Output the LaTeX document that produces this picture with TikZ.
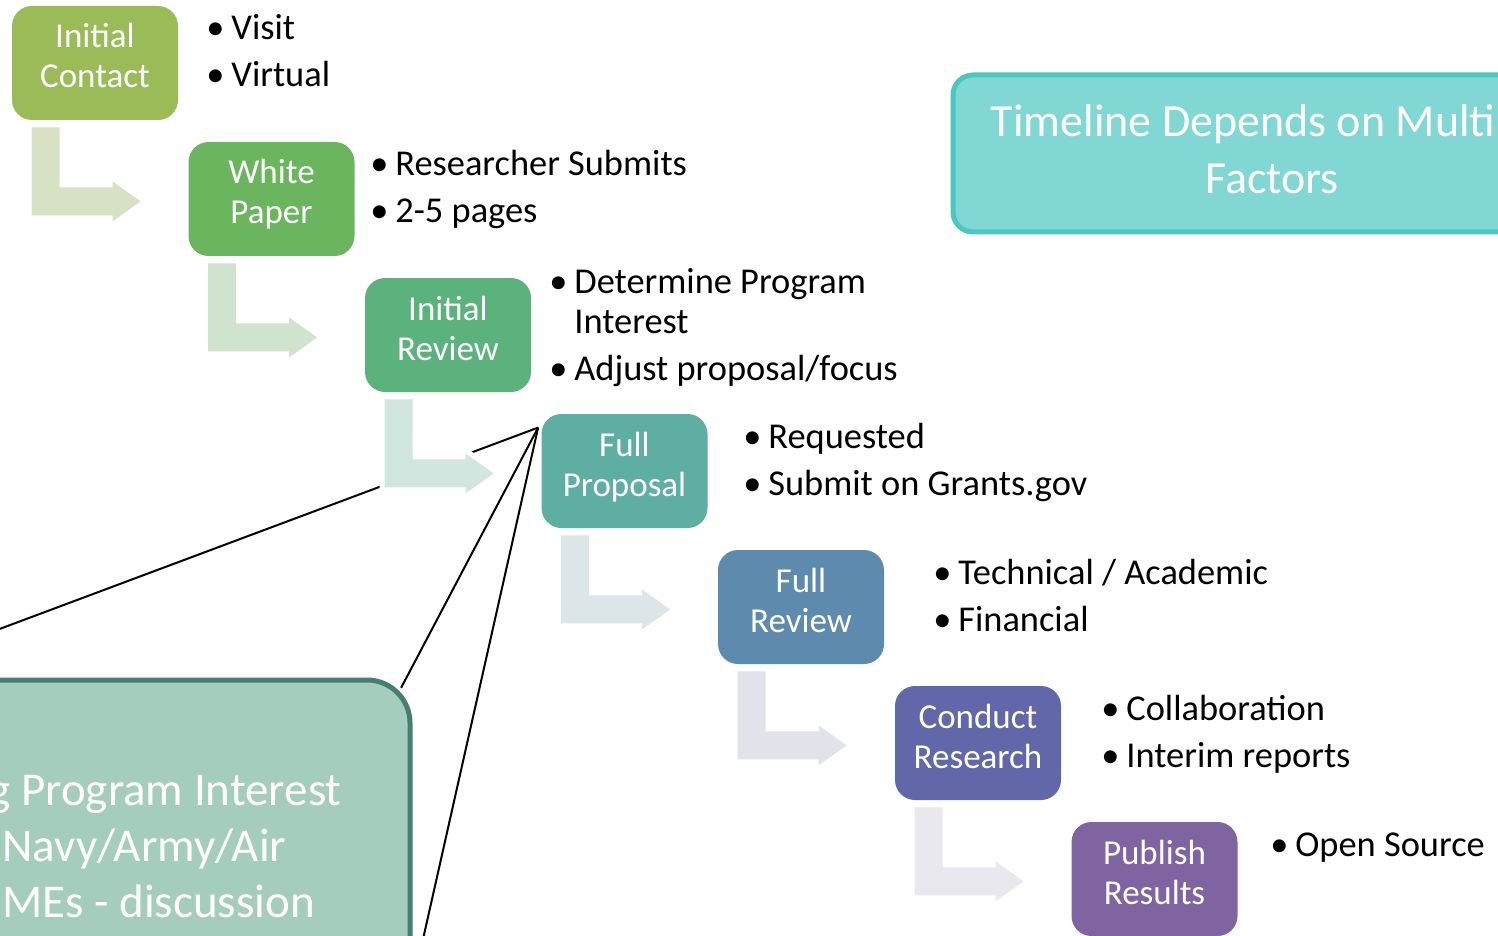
\documentclass[tikz,border=0pt]{standalone}
\usepackage{fontspec}
\setmainfont{Carlito}
\usetikzlibrary{calc}

\definecolor{stepA}{HTML}{9BBB59}
\definecolor{stepB}{HTML}{6AB55E}
\definecolor{stepC}{HTML}{5BB27C}
\definecolor{stepD}{HTML}{5EAEA3}
\definecolor{stepE}{HTML}{5E8BAD}
\definecolor{stepF}{HTML}{6167A8}
\definecolor{stepG}{HTML}{8064A2}
\definecolor{arrowA}{HTML}{D7E2C5}
\definecolor{arrowB}{HTML}{CFE3CE}
\definecolor{arrowC}{HTML}{D2E6E0}
\definecolor{arrowD}{HTML}{DCE5E8}
\definecolor{arrowE}{HTML}{E0E3EA}
\definecolor{arrowF}{HTML}{E9E8EF}
\definecolor{timefill}{HTML}{80D7D4}
\definecolor{timeedge}{HTML}{4BC6C1}
\definecolor{zoomfill}{HTML}{A5CDBD}
\definecolor{zoomedge}{HTML}{457F74}

\newcommand{\steptext}[2]{\begin{tabular}[b]{@{}c@{}}#1\\#2\end{tabular}}
\newcommand{\bitem}{\makebox[12.5pt][l]{\textbullet}}
\newcommand{\blist}[1]{\parbox[t]{260pt}{\raggedright #1}}

\begin{document}
\begin{tikzpicture}[x = 0.5pt, y = -0.5pt,
    stepbox/.style = {rectangle, rounded corners = 10pt, minimum width = 83pt,
        minimum height = 57pt, inner sep = 0pt, text = white,
        font = \fontsize{17.5}{20}\selectfont, text height = 31pt, text depth = 6pt},
    bullets/.style = {anchor = base west, inner sep = 0pt,
        font = \fontsize{18.2}{20}\selectfont},
    bent/.style = {line join = round,
        preaction = {draw = white, line width = 5pt, line join = round}},
    bigtext/.style = {text = white, font = \fontsize{23}{28.5}\selectfont}]
\useasboundingbox (0, 0) rectangle (1498, 936);
\clip (0, 0) rectangle (1498, 936);

\node [stepbox, fill = stepA] (contact) at (95, 63) {\steptext{Initial}{Contact}};
\node [stepbox, fill = stepB] (paper) at (271.5, 199) {\steptext{White}{Paper}};
\node [stepbox, fill = stepC] (review) at (448, 335) {\steptext{Initial}{Review}};
\node [stepbox, fill = stepD] (proposal) at (624.5, 471) {\steptext{Full}{Proposal}};
\node [stepbox, fill = stepE] (fullrev) at (801, 607) {\steptext{Full}{Review}};
\node [stepbox, fill = stepF] (research) at (978, 743) {\steptext{Conduct}{Research}};
\node [stepbox, fill = stepG] (publish) at (1154.5, 879) {\steptext{Publish}{Results}};

% zoom callout
\node [rectangle, rounded corners = 21.5pt, minimum width = 292pt, minimum height = 186pt,
    fill = zoomfill, draw = zoomedge, line width = 2.5pt] (zoombox) at (118, 866) {};
\node [bigtext, font = \fontsize{23.5}{28}\selectfont, anchor = base west, inner sep = 0pt]
    (zoomtext) at (2, 805)
    {\parbox[t]{300pt}{\raggedright\hspace*{-7pt}g Program Interest\\Navy/Army/Air\\MEs - discussion}};
\coordinate (apex) at ($(proposal.north west) + (-3, 14)$);
\coordinate (znw) at ($(zoombox.north west) + (12.6, 12.6)$);
\coordinate (zne) at ($(zoombox.north east) + (-12.6, 12.6)$);
\coordinate (zse) at ($(zoombox.south east) + (-12.6, -12.6)$);
\draw [line width = 1pt] (apex) -- (znw);
\draw [line width = 1pt, shorten > = 1.3pt] (apex) -- (zne);
\draw [line width = 1pt] (apex) -- (zse);

\path [bent, fill = arrowA] ($(contact.south west) + (20, 7)$) -- ++(28, 0) -- ++(0, 60)
    -- ++(53, 0) -- ++(0, -6) -- ++(28, 20) -- ++(-28, 20) -- ++(0, -6) -- ++(-81, 0) -- cycle;
\path [bent, fill = arrowB] ($(paper.south west) + (20, 7)$) -- ++(28, 0) -- ++(0, 60)
    -- ++(53, 0) -- ++(0, -6) -- ++(28, 20) -- ++(-28, 20) -- ++(0, -6) -- ++(-81, 0) -- cycle;
\path [bent, fill = arrowC] ($(review.south west) + (20, 7)$) -- ++(28, 0) -- ++(0, 60)
    -- ++(53, 0) -- ++(0, -6) -- ++(28, 20) -- ++(-28, 20) -- ++(0, -6) -- ++(-81, 0) -- cycle;
\path [bent, fill = arrowD] ($(proposal.south west) + (20, 7)$) -- ++(28, 0) -- ++(0, 60)
    -- ++(53, 0) -- ++(0, -6) -- ++(28, 20) -- ++(-28, 20) -- ++(0, -6) -- ++(-81, 0) -- cycle;
\path [bent, fill = arrowE] ($(fullrev.south west) + (20, 7)$) -- ++(28, 0) -- ++(0, 60)
    -- ++(53, 0) -- ++(0, -6) -- ++(28, 20) -- ++(-28, 20) -- ++(0, -6) -- ++(-81, 0) -- cycle;
\path [bent, fill = arrowF] ($(research.south west) + (20, 7)$) -- ++(28, 0) -- ++(0, 60)
    -- ++(53, 0) -- ++(0, -6) -- ++(28, 20) -- ++(-28, 20) -- ++(0, -6) -- ++(-81, 0) -- cycle;

\node [bullets] (visit) at (206, 40) {\blist{\bitem Visit\\[3.5pt]\bitem Virtual}};
\node [bullets] (submits) at (370, 176) {\blist{\bitem Researcher Submits\\[3.5pt]\bitem 2-5 pages}};
\node [bullets] (interest) at (549, 293)
    {\blist{\bitem Determine Program\\\hspace*{12.5pt}Interest\\[3.5pt]\bitem Adjust proposal/focus}};
\node [bullets] (grants) at (743, 448) {\blist{\bitem Requested\\[3.5pt]\bitem Submit on Grants.gov}};
\node [bullets] (academic) at (933, 584) {\blist{\bitem Technical / Academic\\[3.5pt]\bitem Financial}};
\node [bullets] (reports) at (1101, 720) {\blist{\bitem Collaboration\\[3.5pt]\bitem Interim reports}};
\node [bullets] (opensource) at (1270, 856) {\blist{\bitem Open Source}};

% timeline note
\node [bigtext, rectangle, rounded corners = 10pt, minimum width = 319pt, minimum height = 78.5pt,
    fill = timefill, draw = timeedge, line width = 2.5pt] (timeline) at (1272, 153.5)
    {\begin{tabular}[b]{@{}c@{}}Timeline Depends on Multiple\\Factors\end{tabular}};
\end{tikzpicture}
\end{document}
